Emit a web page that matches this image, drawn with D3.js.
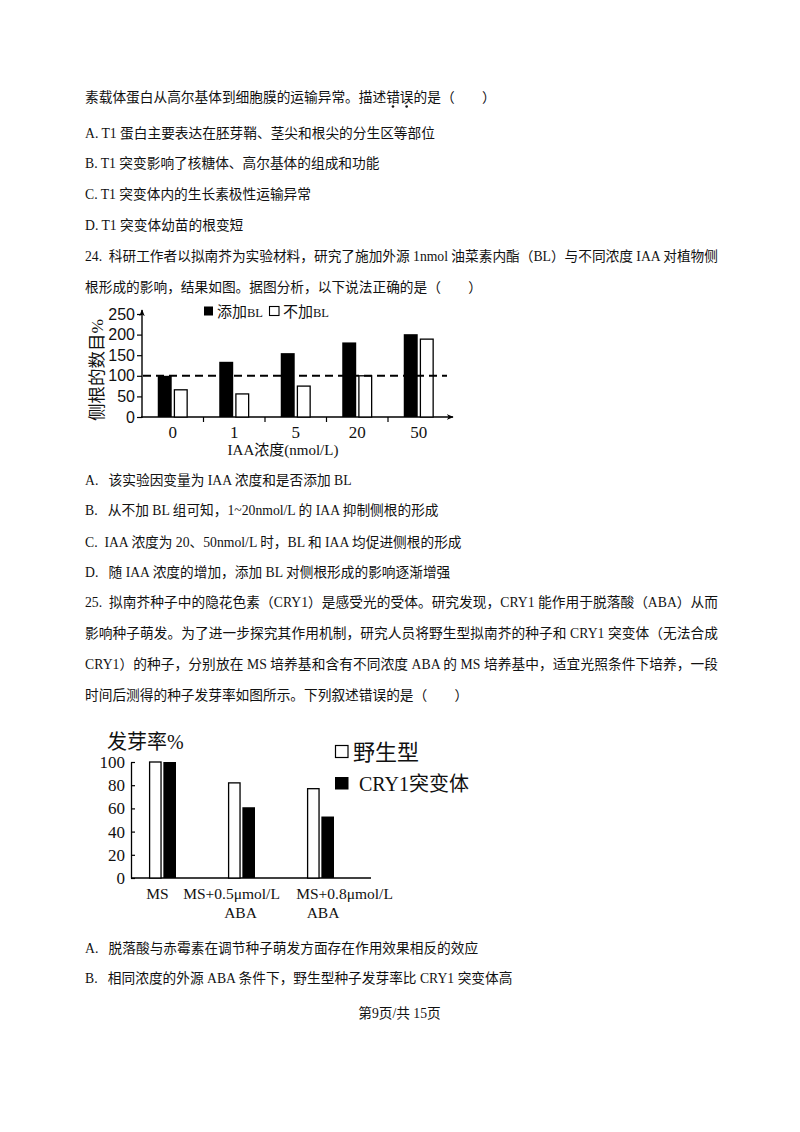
<!DOCTYPE html>
<html>
<head>
<meta charset="utf-8">
<script src="https://cdn.jsdelivr.net/npm/d3@7"></script>
<style>
  body { margin: 0; background: #fff; }
  svg text { white-space: pre; }
</style>
</head>
<body>
<script>
// ---- page text ----
const topLines = [
  "素载体蛋白从高尔基体到细胞膜的运输异常。描述错误的是（　　）",
  "A. T1 蛋白主要表达在胚芽鞘、茎尖和根尖的分生区等部位",
  "B. T1 突变影响了核糖体、高尔基体的组成和功能",
  "C. T1 突变体内的生长素极性运输异常",
  "D. T1 突变体幼苗的根变短",
  "24.  科研工作者以拟南芥为实验材料，研究了施加外源 1nmol 油菜素内酯（BL）与不同浓度 IAA 对植物侧",
  "根形成的影响，结果如图。据图分析，以下说法正确的是（　　）"
];
const middleLines = [
  "A.   该实验因变量为 IAA 浓度和是否添加 BL",
  "B.   从不加 BL 组可知，1~20nmol/L 的 IAA 抑制侧根的形成",
  "C.  IAA 浓度为 20、50nmol/L 时，BL 和 IAA 均促进侧根的形成",
  "D.   随 IAA 浓度的增加，添加 BL 对侧根形成的影响逐渐增强",
  "25.  拟南芥种子中的隐花色素（CRY1）是感受光的受体。研究发现，CRY1 能作用于脱落酸（ABA）从而",
  "影响种子萌发。为了进一步探究其作用机制，研究人员将野生型拟南芥的种子和 CRY1 突变体（无法合成",
  "CRY1）的种子，分别放在 MS 培养基和含有不同浓度 ABA 的 MS 培养基中，适宜光照条件下培养，一段",
  "时间后测得的种子发芽率如图所示。下列叙述错误的是（　　）"
];
const bottomLines = [
  "A.   脱落酸与赤霉素在调节种子萌发方面存在作用效果相反的效应",
  "B.   相同浓度的外源 ABA 条件下，野生型种子发芽率比 CRY1 突变体高"
];
const footerText = "第9页/共 15页";

// ---- chart 1: lateral roots ----
const iaaConc = ["0", "1", "5", "20", "50"];
const withBL = [100, 134, 155, 181, 201];
const withoutBL = [66, 56, 75, 100, 189];
const rootTicks = [0, 50, 100, 150, 200, 250];
const rootReference = 100;

// ---- chart 2: germination ----
const media = ["MS", "MS+0.5μmol/L ABA", "MS+0.8μmol/L ABA"];
const mediaLabelLines = [["MS"], ["MS+0.5μmol/L", "ABA"], ["MS+0.8μmol/L", "ABA"]];
const wildType = [100, 82, 77];
const cry1Mutant = [100, 61, 53];
const germTicks = [0, 20, 40, 60, 80, 100];

const W = 800, H = 1132;
const SERIF = "'Liberation Serif', 'Noto Sans CJK SC', serif";
const SANS = "'Liberation Sans', Arial, sans-serif";
const TEXT_X = 85, TEXT_R = 718, FS = 13.7;

const svg = d3.select("body").append("svg")
  .attr("width", W).attr("height", H)
  .style("display", "block");
svg.append("rect").attr("width", W).attr("height", H).attr("fill", "#fff");

function bodyLine(str, yc, justify) {
  const t = svg.append("text")
    .attr("x", TEXT_X)
    .attr("y", yc + 5)
    .attr("font-family", SERIF)
    .attr("font-size", FS)
    .attr("fill", "#111")
    .text(str);
  if (justify) t.attr("textLength", TEXT_R - TEXT_X).attr("lengthAdjust", "spacing");
  return t;
}

const topY = [97, 133, 163, 194, 225, 256, 287];
const topNodes = topLines.map((s, i) => bodyLine(s, topY[i], i === 5));
const midY = [480, 510, 542, 572, 602, 633, 664, 695];
middleLines.forEach((s, i) => bodyLine(s, midY[i], i >= 4 && i <= 6));
const botY = [948, 978];
bottomLines.forEach((s, i) => bodyLine(s, botY[i], false));

svg.append("text")
  .attr("x", 399.5).attr("y", 1018)
  .attr("text-anchor", "middle")
  .attr("font-family", SERIF).attr("font-size", FS).attr("fill", "#111")
  .text(footerText);

// emphasis dots under 错误
const firstNode = topNodes[0].node();
const emph = topLines[0].indexOf("错误");
[emph, emph + 1].forEach((ci) => {
  const ext = firstNode.getExtentOfChar(ci);
  svg.append("circle")
    .attr("cx", ext.x + ext.width / 2)
    .attr("cy", 106.5)
    .attr("r", 1.3)
    .attr("fill", "#111");
});

// arrow marker
svg.append("defs").append("marker")
  .attr("id", "arrow")
  .attr("viewBox", "0 0 10 10")
  .attr("refX", 9).attr("refY", 5)
  .attr("markerWidth", 7).attr("markerHeight", 7)
  .attr("markerUnits", "userSpaceOnUse")
  .attr("orient", "auto")
  .append("path").attr("d", "M0,1L10,5L0,9L3,5Z").attr("fill", "#000");

// ================= chart 1 =================
const c1 = svg.append("g").attr("class", "chart-roots");
const x1 = d3.scaleBand().domain(iaaConc).range([142, 449.5]);
const x1Inner = d3.scaleBand().domain(["bl", "none"]).range([-15, 15]).paddingInner(0.13);
const y1 = d3.scaleLinear().domain([0, 250]).range([417, 314]);

const y1Axis = c1.append("g")
  .attr("transform", `translate(${x1.range()[0]},0)`)
  .call(d3.axisLeft(y1).tickValues(rootTicks).tickSize(5).tickPadding(2).tickFormat(d3.format("d")));
y1Axis.select(".domain").remove();
y1Axis.selectAll("line").attr("stroke", "#000").attr("stroke-width", 1.2);
y1Axis.selectAll("text")
  .attr("font-family", SANS).attr("font-size", 16).attr("fill", "#111");

const x1Axis = c1.append("g")
  .attr("transform", `translate(0,${y1(0)})`)
  .call(d3.axisBottom(x1).tickSize(0).tickPadding(9));
x1Axis.select(".domain").remove();
x1Axis.selectAll("text")
  .attr("font-family", SERIF).attr("font-size", 17).attr("fill", "#111");

// boundary ticks between groups
c1.selectAll("line.group-tick")
  .data(iaaConc.slice(1))
  .join("line")
  .attr("class", "group-tick")
  .attr("x1", (d) => x1(d)).attr("x2", (d) => x1(d))
  .attr("y1", y1(0)).attr("y2", y1(0) + 5)
  .attr("stroke", "#000").attr("stroke-width", 1.2);

// axis lines with arrows
c1.append("line")
  .attr("x1", x1.range()[0]).attr("y1", y1(0) + 1)
  .attr("x2", x1.range()[0]).attr("y2", y1(250) - 4)
  .attr("stroke", "#000").attr("stroke-width", 1.4)
  .attr("marker-end", "url(#arrow)");
c1.append("line")
  .attr("x1", x1.range()[0] - 1).attr("y1", y1(0))
  .attr("x2", 453).attr("y2", y1(0))
  .attr("stroke", "#000").attr("stroke-width", 1.4)
  .attr("marker-end", "url(#arrow)");

const rootRows = iaaConc.map((c, i) => ({ conc: c, bl: withBL[i], none: withoutBL[i] }));
const rootGroups = c1.selectAll("g.conc")
  .data(rootRows)
  .join("g")
  .attr("class", "conc")
  .attr("transform", (d) => `translate(${x1(d.conc) + x1.bandwidth() / 2},0)`);

rootGroups.append("rect")
  .attr("x", x1Inner("bl"))
  .attr("y", (d) => y1(d.bl))
  .attr("width", x1Inner.bandwidth())
  .attr("height", (d) => y1(0) - y1(d.bl))
  .attr("fill", "#000");

rootGroups.append("rect")
  .attr("x", x1Inner("none") + 0.6)
  .attr("y", (d) => y1(d.none))
  .attr("width", x1Inner.bandwidth() - 1.2)
  .attr("height", (d) => y1(0) - y1(d.none))
  .attr("fill", "#fff")
  .attr("stroke", "#000")
  .attr("stroke-width", 1.3);

c1.append("line")
  .attr("x1", 143).attr("x2", 447)
  .attr("y1", y1(rootReference)).attr("y2", y1(rootReference))
  .attr("stroke", "#000").attr("stroke-width", 2)
  .attr("stroke-dasharray", "8,5");

// legend
c1.append("rect").attr("x", 204).attr("y", 306.5).attr("width", 9).attr("height", 9).attr("fill", "#000");
const lg1 = c1.append("text").attr("x", 217).attr("y", 316.5)
  .attr("font-family", SERIF).attr("font-size", 15).attr("fill", "#111");
lg1.append("tspan").text("添加");
lg1.append("tspan").attr("font-size", 12.5).text("BL");
c1.append("rect").attr("x", 269.5).attr("y", 306.5).attr("width", 9.5).attr("height", 9)
  .attr("fill", "#fff").attr("stroke", "#000").attr("stroke-width", 1.1);
const lg2 = c1.append("text").attr("x", 283).attr("y", 316.5)
  .attr("font-family", SERIF).attr("font-size", 15).attr("fill", "#111");
lg2.append("tspan").text("不加");
lg2.append("tspan").attr("font-size", 12.5).text("BL");

// axis titles
c1.append("text")
  .attr("transform", "translate(103,370) rotate(-90)")
  .attr("text-anchor", "middle")
  .attr("font-family", SERIF).attr("font-size", 17.5).attr("fill", "#111")
  .text("侧根的数目%");
c1.append("text")
  .attr("x", 283).attr("y", 455)
  .attr("text-anchor", "middle")
  .attr("font-family", SERIF).attr("font-size", 15).attr("fill", "#111")
  .text("IAA浓度(nmol/L)");

// ================= chart 2 =================
const c2 = svg.append("g").attr("class", "chart-germination");
const x2 = d3.scaleBand().domain(media).range([123, 360]);
const x2Inner = d3.scaleBand().domain(["wt", "cry1"]).range([-13.5, 13.5]).paddingInner(0.12);
const y2 = d3.scaleLinear().domain([0, 100]).range([878, 762]);
const axisX2 = 131;

const y2Axis = c2.append("g")
  .attr("transform", `translate(${axisX2},0)`)
  .call(d3.axisLeft(y2).tickValues(germTicks).tickSizeInner(-4).tickSizeOuter(0).tickPadding(6));
y2Axis.select(".domain").attr("stroke", "#000").attr("stroke-width", 1.3);
y2Axis.selectAll("line").attr("stroke", "#000").attr("stroke-width", 1.2);
y2Axis.selectAll("text")
  .attr("font-family", SERIF).attr("font-size", 17).attr("fill", "#111");

c2.append("line")
  .attr("x1", axisX2).attr("x2", 371)
  .attr("y1", y2(0)).attr("y2", y2(0))
  .attr("stroke", "#000").attr("stroke-width", 1.3);

const germRows = media.map((m, i) => ({ medium: m, wt: wildType[i], cry1: cry1Mutant[i], lines: mediaLabelLines[i] }));
const germGroups = c2.selectAll("g.medium")
  .data(germRows)
  .join("g")
  .attr("class", "medium")
  .attr("transform", (d) => `translate(${x2(d.medium) + x2.bandwidth() / 2},0)`);

germGroups.append("rect")
  .attr("x", x2Inner("wt") + 0.6)
  .attr("y", (d) => y2(d.wt))
  .attr("width", x2Inner.bandwidth() - 1.2)
  .attr("height", (d) => y2(0) - y2(d.wt))
  .attr("fill", "#fff")
  .attr("stroke", "#000")
  .attr("stroke-width", 1.3);

germGroups.append("rect")
  .attr("x", x2Inner("cry1"))
  .attr("y", (d) => y2(d.cry1))
  .attr("width", x2Inner.bandwidth())
  .attr("height", (d) => y2(0) - y2(d.cry1))
  .attr("fill", "#000");

// category labels; first lines are nudged apart so they do not collide
const firstLineShift = [-5, -10, 24];
const secondLineShift = [0, -1, 2.5];
germGroups.each(function (d, i) {
  const g = d3.select(this);
  d.lines.forEach((ln, k) => {
    g.append("text")
      .attr("x", k === 0 ? firstLineShift[i] : secondLineShift[i])
      .attr("y", k === 0 ? 898.5 : 917.5)
      .attr("text-anchor", "middle")
      .attr("font-family", SERIF).attr("font-size", 15.5).attr("fill", "#111")
      .text(ln);
  });
});

// title
c2.append("text").attr("x", 107).attr("y", 749)
  .attr("font-family", SERIF).attr("font-size", 20).attr("fill", "#111")
  .text("发芽率%");

// legend
c2.append("rect").attr("x", 335.5).attr("y", 745.5).attr("width", 12.5).attr("height", 12)
  .attr("fill", "#fff").attr("stroke", "#000").attr("stroke-width", 1.2);
c2.append("text").attr("x", 353).attr("y", 760)
  .attr("font-family", SERIF).attr("font-size", 22).attr("fill", "#111")
  .text("野生型");
c2.append("rect").attr("x", 335).attr("y", 777).attr("width", 13.5).attr("height", 12.5)
  .attr("fill", "#000");
c2.append("text").attr("x", 359).attr("y", 790.5)
  .attr("font-family", SERIF).attr("font-size", 20).attr("fill", "#111")
  .text("CRY1突变体");
</script>
</body>
</html>
